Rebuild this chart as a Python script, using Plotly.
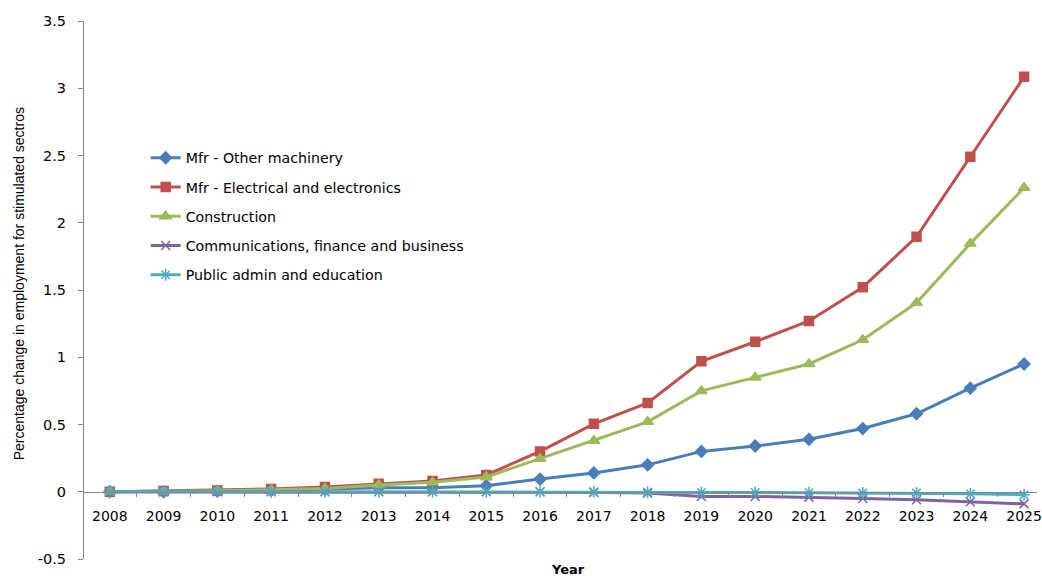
import plotly.graph_objects as go

# Years on the category axis
years = ["2008", "2009", "2010", "2011", "2012", "2013", "2014", "2015", "2016",
         "2017", "2018", "2019", "2020", "2021", "2022", "2023", "2024", "2025"]

# Percentage change in employment for each stimulated sector
other_machinery = [0, 0, 0.005, 0.01, 0.02, 0.03, 0.03, 0.045, 0.094, 0.14, 0.2,
                   0.30, 0.34, 0.39, 0.47, 0.58, 0.77, 0.95]
electrical = [0, 0.005, 0.01, 0.02, 0.035, 0.06, 0.08, 0.125, 0.30, 0.505, 0.66,
              0.97, 1.115, 1.27, 1.52, 1.895, 2.49, 3.085]
construction = [0, 0.003, 0.008, 0.015, 0.025, 0.05, 0.07, 0.11, 0.245, 0.38, 0.52,
                0.75, 0.85, 0.95, 1.13, 1.405, 1.845, 2.26]
communications = [0, 0, 0, 0, 0, 0, 0, 0, 0, -0.005, -0.01, -0.035, -0.035, -0.04,
                  -0.05, -0.06, -0.075, -0.09]
public_admin = [0, 0, 0, 0, 0, 0, 0, 0, 0, 0, -0.003, -0.005, -0.005, -0.007,
                -0.01, -0.01, -0.015, -0.022]

# Value-axis ticks (plain hyphen for the negative label)
y_ticks = [-0.5, 0, 0.5, 1, 1.5, 2, 2.5, 3, 3.5]
y_tick_text = ["-0.5", "0", "0.5", "1", "1.5", "2", "2.5", "3", "3.5"]

series = [
    ("Mfr - Other machinery", other_machinery, "#4A7EBB", "diamond", 9),
    ("Mfr - Electrical and electronics", electrical, "#C0504D", "square", 9),
    ("Construction", construction, "#9BBB59", "triangle-up", 10),
    ("Communications, finance and business", communications, "#8064A2", "x-thin-open", 9),
    ("Public admin and education", public_admin, "#4BACC6", "asterisk-open", 10),
]

fig = go.Figure()
for i, (name, vals, color, symbol, size) in enumerate(series):
    fig.add_trace(go.Scatter(
        x=years, y=vals, name=name, mode="lines+markers",
        legendgroup=f"g{i}",
        line=dict(color=color, width=3),
        marker=dict(symbol=symbol, size=size, color=color,
                    line=dict(color=color, width=1.5)),
    ))

axis_gray = "#868686"
font_main = "DejaVu Sans, Verdana, sans-serif"

# Plot area in pixels
left, right, top, bottom = 84, 0, 21, 17
plot_w = 1042 - left - right
plot_h = 576 - top - bottom


def px_x(px):
    return (px - left) / plot_w


def px_y(py):
    return (576 - bottom - py) / plot_h


fig.update_layout(
    width=1042, height=576,
    margin=dict(l=left, r=right, t=top, b=bottom),
    paper_bgcolor="white", plot_bgcolor="white",
    font=dict(family=font_main, size=13, color="black"),
    showlegend=True,
    legend=dict(x=px_x(146), y=px_y(142), xanchor="left", yanchor="top",
                bgcolor="rgba(0,0,0,0)", tracegroupgap=7.8,
                font=dict(family=font_main, size=14.2)),
    xaxis=dict(
        type="category", range=[-0.48, 17.24],
        anchor="free", position=0.125,
        showline=True, linecolor=axis_gray, linewidth=1,
        ticks="outside", ticklen=4, tickcolor=axis_gray, tickson="boundaries",
        ticklabelstandoff=11,
        showgrid=False, zeroline=False,
        tickfont=dict(family=font_main, size=14),
    ),
    yaxis=dict(
        range=[-0.5, 3.5], tickvals=y_ticks, ticktext=y_tick_text,
        showline=True, linecolor=axis_gray, linewidth=1,
        ticks="outside", ticklen=5, tickcolor=axis_gray,
        ticklabelstandoff=9,
        showgrid=False, zeroline=False,
        tickfont=dict(family=font_main, size=14.5),
    ),
    annotations=[
        dict(text="<b>Year</b>", x=px_x(571), y=px_y(569), xref="paper", yref="paper",
             xanchor="center", yanchor="middle", showarrow=False,
             font=dict(family=font_main, size=13)),
        dict(text="Percentage change in employment for stimulated sectros",
             x=px_x(19), y=px_y(284), xref="paper", yref="paper", showarrow=False,
             xanchor="center", yanchor="middle", textangle=-90,
             font=dict(family="Liberation Sans Narrow, Arial Narrow, sans-serif", size=14)),
    ],
)

fig.write_html("out.html")
